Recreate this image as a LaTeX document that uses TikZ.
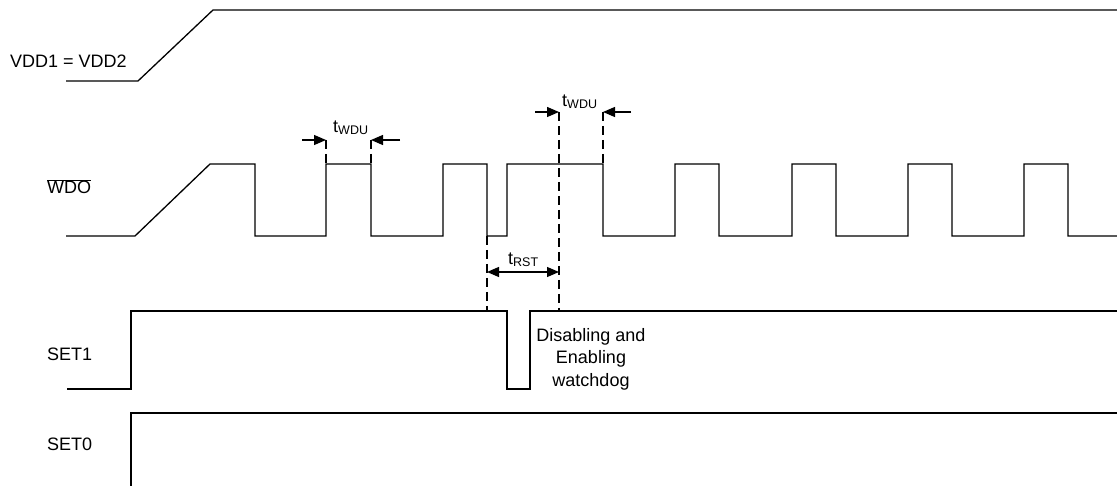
\documentclass[tikz,border=0pt]{standalone}
\usepackage{fontspec}
\setmainfont{Liberation Sans}
\usetikzlibrary{arrows.meta}
\newcommand\mysub[1]{\raisebox{-0.15ex}{\fontsize{12.5}{13}\selectfont #1}}
\tikzset{
  wave/.style={line width=1.3pt, line join=miter},
  guide/.style={line width=1.3pt, dash pattern=on 9pt off 5pt},
  dimarrow/.style={line width=1.3pt, -{Triangle[length=12pt,width=10pt]}},
  dimboth/.style={line width=1.3pt, {Triangle[length=12pt,width=10pt]}-{Triangle[length=12pt,width=10pt]}},
  lbl/.style={inner sep=0pt, anchor=base west, font=\fontsize{18}{22}\selectfont},
  tlbl/.style={inner sep=0pt, anchor=base west, font=\fontsize{18}{22}\selectfont},
}
\begin{document}
\begin{tikzpicture}[x=1pt,y=-1pt]
\useasboundingbox (0,0) rectangle (1117,486);
% labels
\node[lbl] (lvdd) at (10,68) {VDD1 = VDD2};
\node[lbl] (lwdo) at (47,194) {$\overline{\mbox{WDO}}$};
\node[lbl] (lset1) at (47,361) {SET1};
\node[lbl] (lset0) at (47,450) {SET0};
% waveforms
\draw[wave] (66,81) -- (138,81) -- (213,10) -- (1117,10);
\draw[wave] (66,236) -- (135,236) -- (210,164) -- (255,164) -- (255,236) -- (326,236) -- (326,164)
  -- (371,164) -- (371,236) -- (443,236) -- (443,164) -- (487,164) -- (487,236) -- (507,236)
  -- (507,164) -- (603,164) -- (603,236) -- (675,236) -- (675,164) -- (719,164) -- (719,236)
  -- (792,236) -- (792,164) -- (836,164) -- (836,236) -- (908,236) -- (908,164) -- (952,164)
  -- (952,236) -- (1024,236) -- (1024,164) -- (1068,164) -- (1068,236) -- (1117,236);
\draw[wave] (67,389) -- (131,389) -- (131,311) -- (507,311) -- (507,389) -- (530,389) -- (530,311) -- (1117,311);
\draw[wave] (131,486) -- (131,413) -- (1117,413);
% guide coordinates
\coordinate (g1t) at (326,140); \coordinate (g1b) at (326,164);
\coordinate (g2t) at (371,140); \coordinate (g2b) at (371,164);
\coordinate (g3t) at (559,112); \coordinate (g3b) at (559,311);
\coordinate (g4t) at (603,112); \coordinate (g4b) at (603,164);
\coordinate (g5t) at (487,236); \coordinate (g5b) at (487,311);
\draw[guide] (g1t) -- (g1b);
\draw[guide] (g2t) -- (g2b);
\draw[guide] (g3t) -- (g3b);
\draw[guide] (g4t) -- (g4b);
\draw[guide] (g5t) -- (g5b);
% dimension arrows
\coordinate (a1) at (302,140);
\coordinate (a2) at (400,140);
\coordinate (a3) at (535,112);
\coordinate (a4) at (631,112);
\coordinate (r1) at (487,272);
\coordinate (r2) at (559,272);
\draw[dimarrow] (a1) -- (g1t);
\draw[dimarrow] (a2) -- (g2t);
\draw[dimarrow] (a3) -- (g3t);
\draw[dimarrow] (a4) -- (g4t);
\draw[dimboth] (r1) -- (r2);
\node[tlbl] (tw1) at (333,133) {t\mysub{WDU}};
\node[tlbl] (tw2) at (562,107) {t\mysub{WDU}};
\node[tlbl] (trst) at (508,265) {t\mysub{RST}};
\node[inner sep=0pt, anchor=north, align=center, font=\fontsize{18}{22.5}\selectfont] (dis) at (591,328) {Disabling and\\Enabling\\watchdog};
\end{tikzpicture}
\end{document}
